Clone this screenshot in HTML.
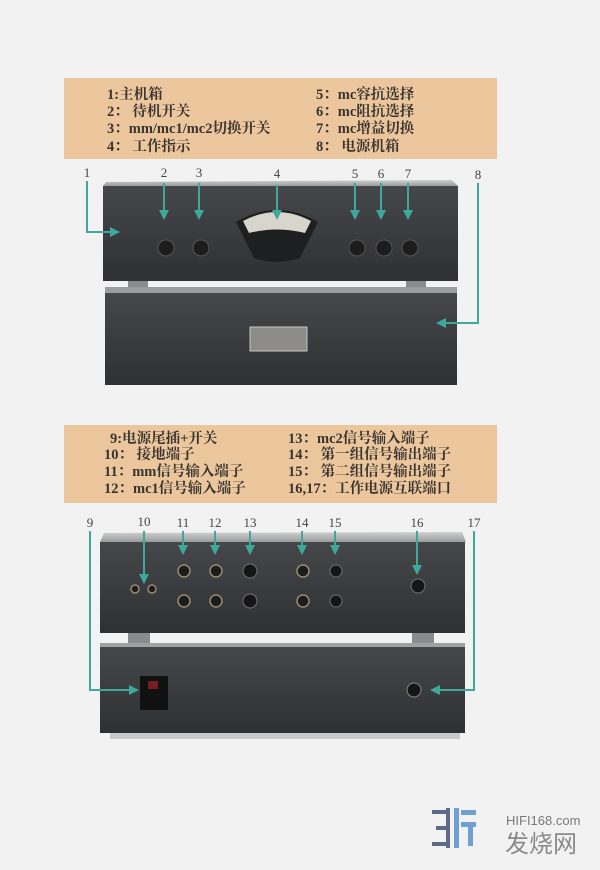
<!DOCTYPE html>
<html><head><meta charset="utf-8"><style>
html,body{margin:0;padding:0;background:#f2f2f2;}
body{width:600px;height:870px;position:relative;overflow:hidden;font-family:"Liberation Serif","Noto Serif CJK SC",serif;}
.box{position:absolute;background:#ecc79d;}
.t{position:absolute;font-size:14.5px;font-weight:bold;color:#3a3530;white-space:nowrap;line-height:17px;}
svg{position:absolute;left:0;top:0;}
</style></head><body>
<div class="box" style="left:64px;top:78px;width:433px;height:81px;"></div>
<div class="t" style="left:107px;top:87px;">1:主机箱</div>
<div class="t" style="left:107px;top:104px;">2：&nbsp;待机开关</div>
<div class="t" style="left:107px;top:121px;">3：mm/mc1/mc2切换开关</div>
<div class="t" style="left:107px;top:139px;">4：&nbsp;工作指示</div>
<div class="t" style="left:316px;top:87px;">5：mc容抗选择</div>
<div class="t" style="left:316px;top:104px;">6：mc阻抗选择</div>
<div class="t" style="left:316px;top:121px;">7：mc增益切换</div>
<div class="t" style="left:316px;top:139px;">8：&nbsp;电源机箱</div>

<div class="box" style="left:64px;top:425px;width:433px;height:78px;"></div>
<div class="t" style="left:110px;top:431px;">9:电源尾插+开关</div>
<div class="t" style="left:104px;top:447px;">10：&nbsp;接地端子</div>
<div class="t" style="left:104px;top:464px;">11：mm信号输入端子</div>
<div class="t" style="left:104px;top:481px;">12：mc1信号输入端子</div>
<div class="t" style="left:288px;top:431px;">13：mc2信号输入端子</div>
<div class="t" style="left:288px;top:447px;">14：&nbsp;第一组信号输出端子</div>
<div class="t" style="left:288px;top:464px;">15：&nbsp;第二组信号输出端子</div>
<div class="t" style="left:288px;top:481px;">16,17：工作电源互联端口</div>

<svg width="600" height="870" viewBox="0 0 600 870">
<defs>
<linearGradient id="g1" x1="0" y1="0" x2="0" y2="1"><stop offset="0" stop-color="#45474a"/><stop offset="1" stop-color="#2f3032"/></linearGradient>
<linearGradient id="top" x1="0" y1="0" x2="0" y2="1"><stop offset="0" stop-color="#cfd0d0"/><stop offset="1" stop-color="#9a9b9c"/></linearGradient>
</defs>
<polygon points="106,182 452,180 458,186 103,186" fill="url(#top)"/>
<rect x="103" y="186" width="355" height="95" fill="url(#g1)"/>
<path d="M236,222 Q277,198 318,222 L300,258 Q277,266 254,258 Z" fill="#1e1f21"/>
<path d="M243,221 Q277,203 311,221 L305,233 Q277,226 249,233 Z" fill="#d8d6cc"/>
<g fill="#1c1c1d" stroke="#555" stroke-width="1">
<circle cx="166" cy="248" r="8"/><circle cx="201" cy="248" r="8"/>
<circle cx="357" cy="248" r="8"/><circle cx="384" cy="248" r="8"/><circle cx="410" cy="248" r="8"/></g>
<rect x="128" y="281" width="20" height="8" fill="#8a8b8c"/><rect x="406" y="281" width="20" height="8" fill="#8a8b8c"/>
<rect x="105" y="287" width="352" height="6" fill="#9b9c9d"/>
<rect x="105" y="293" width="352" height="92" fill="url(#g1)"/>
<rect x="250" y="327" width="57" height="24" fill="#8d8c88" stroke="#c7c6c0"/>
<polygon points="104,533 462,532 466,542 100,542" fill="url(#top)"/>
<rect x="100" y="542" width="365" height="91" fill="url(#g1)"/>
<g fill="#1c1c1c" stroke="#9a8a70" stroke-width="1.5">
<circle cx="135" cy="589" r="4"/><circle cx="152" cy="589" r="4"/>
<circle cx="184" cy="571" r="6"/><circle cx="216" cy="571" r="6"/><circle cx="303" cy="571" r="6"/>
<circle cx="184" cy="601" r="6"/><circle cx="216" cy="601" r="6"/><circle cx="303" cy="601" r="6"/></g>
<g fill="#151515" stroke="#666" stroke-width="1.2">
<circle cx="250" cy="571" r="7"/><circle cx="250" cy="601" r="7"/>
<circle cx="336" cy="571" r="6"/><circle cx="336" cy="601" r="6"/>
<circle cx="418" cy="586" r="7"/></g>
<rect x="128" y="633" width="22" height="10" fill="#8a8b8c"/><rect x="412" y="633" width="22" height="10" fill="#8a8b8c"/>
<rect x="100" y="643" width="365" height="4" fill="#a0a1a2"/>
<rect x="100" y="647" width="365" height="86" fill="url(#g1)"/>
<rect x="140" y="676" width="28" height="34" fill="#111"/>
<rect x="148" y="681" width="10" height="8" fill="#7a1d1d"/>
<circle cx="414" cy="690" r="7" fill="#151515" stroke="#777" stroke-width="1.2"/>
<rect x="110" y="733" width="350" height="6" fill="#c9c9c9"/>

<g font-family="Liberation Serif, serif" font-size="13" fill="#444" text-anchor="middle">
<text x="87" y="177">1</text><text x="164" y="177">2</text><text x="199" y="177">3</text><text x="277" y="178">4</text>
<text x="355" y="178">5</text><text x="381" y="178">6</text><text x="408" y="178">7</text><text x="478" y="179">8</text>
<text x="90" y="527">9</text><text x="144" y="526">10</text><text x="183" y="527">11</text><text x="215" y="527">12</text>
<text x="250" y="527">13</text><text x="302" y="527">14</text><text x="335" y="527">15</text><text x="417" y="527">16</text><text x="474" y="527">17</text>
</g>
<g stroke="#3ea89b" stroke-width="2" fill="none">
<path d="M87,181 V232 H112"/>
<path d="M164,183 V212"/><path d="M199,183 V212"/><path d="M277,185 V212"/>
<path d="M355,183 V212"/><path d="M381,183 V212"/><path d="M408,183 V212"/>
<path d="M478,183 V323 H444"/>
<path d="M90,531 V690 H131"/>
<path d="M144,531 V576"/><path d="M183,531 V547"/><path d="M215,531 V547"/><path d="M250,531 V547"/>
<path d="M302,531 V547"/><path d="M335,531 V547"/><path d="M417,531 V567"/>
<path d="M474,531 V690 H438"/>
</g>
<g fill="#3ea89b">
<polygon points="120,232 110,227 110,237"/>
<polygon points="164,220 159,210 169,210"/><polygon points="199,220 194,210 204,210"/><polygon points="277,220 272,210 282,210"/>
<polygon points="355,220 350,210 360,210"/><polygon points="381,220 376,210 386,210"/><polygon points="408,220 403,210 413,210"/>
<polygon points="436,323 446,318 446,328"/>
<polygon points="139,690 129,685 129,695"/>
<polygon points="144,584 139,574 149,574"/>
<polygon points="183,555 178,545 188,545"/><polygon points="215,555 210,545 220,545"/><polygon points="250,555 245,545 255,545"/>
<polygon points="302,555 297,545 307,545"/><polygon points="335,555 330,545 340,545"/>
<polygon points="417,575 412,565 422,565"/>
<polygon points="430,690 440,685 440,695"/>
</g>
<g fill="#5f6a86"><rect x="432" y="810" width="16" height="4"/><rect x="436" y="826" width="12" height="4"/><rect x="432" y="842" width="16" height="4"/><rect x="446" y="808" width="4" height="40"/></g>
<g fill="#6fa0d2"><rect x="454" y="808" width="5" height="40"/><rect x="461" y="810" width="15" height="5"/><rect x="461" y="822" width="15" height="5"/><rect x="468" y="822" width="5" height="24"/></g>
<text x="506" y="825" font-family="Liberation Sans, sans-serif" font-size="13" fill="#7a7a7a">HIFI168.com</text>
<text x="505" y="852" font-family="Liberation Sans, Noto Sans CJK SC, sans-serif" font-size="24" fill="#8a8a8a">发烧网</text>
</svg>
</body></html>
